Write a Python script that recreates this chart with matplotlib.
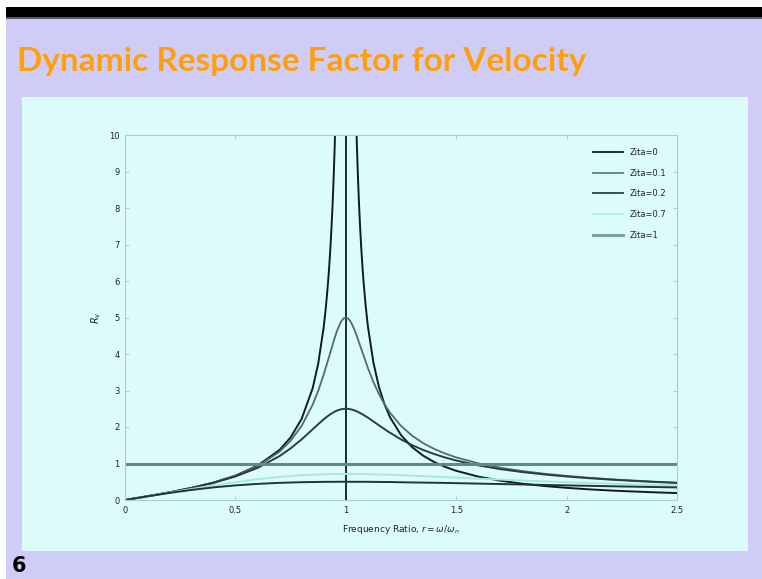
import matplotlib
matplotlib.use("Agg")
import matplotlib.pyplot as plt
from matplotlib.patches import Rectangle
from matplotlib.lines import Line2D

# ---------------- data ----------------
r_fine = [0, 0.1, 0.2, 0.3, 0.4, 0.5, 0.6, 0.7, 0.75, 0.8, 0.85, 0.875, 0.9, 0.925,
          0.95, 0.96, 0.975, 0.98, 0.99, 1.0, 1.01, 1.02, 1.025, 1.04, 1.05, 1.075,
          1.1, 1.125, 1.15, 1.175, 1.2, 1.25, 1.3, 1.35, 1.4, 1.45, 1.5, 1.6, 1.7,
          1.8, 1.9, 2.0, 2.1, 2.2, 2.25, 2.4, 2.5]
rv_z01 = [0, 0.101, 0.208, 0.329, 0.474, 0.661, 0.921, 1.324, 1.622, 2.031, 2.612,
          2.991, 3.439, 3.942, 4.448, 4.629, 4.847, 4.901, 4.975, 5.0, 4.975, 4.905,
          4.854, 4.655, 4.493, 4.050, 3.617, 3.232, 2.903, 2.627, 2.394, 2.031,
          1.763, 1.559, 1.4, 1.272, 1.167, 1.005, 0.885, 0.793, 0.720, 0.661, 0.611,
          0.569, 0.550, 0.502, 0.474]
rv_z02 = [0, 0.101, 0.208, 0.327, 0.468, 0.644, 0.878, 1.203, 1.414, 1.661, 1.937,
          2.077, 2.211, 2.329, 2.422, 2.449, 2.480, 2.487, 2.497, 2.5, 2.497, 2.488,
          2.481, 2.453, 2.429, 2.351, 2.256, 2.153, 2.047, 1.943, 1.843, 1.661,
          1.505, 1.372, 1.260, 1.164, 1.082, 0.949, 0.846, 0.765, 0.699, 0.644,
          0.598, 0.558, 0.541, 0.494, 0.468]

r_left = [0, 0.1, 0.2, 0.3, 0.4, 0.5, 0.6, 0.7, 0.75, 0.8, 0.85, 0.875, 0.9, 0.91,
          0.92, 0.925, 0.93, 0.935, 0.94, 0.945, 0.95, 0.96, 0.97, 0.975, 0.99]
rv_z0_left = [0, 0.101, 0.208, 0.330, 0.476, 0.667, 0.938, 1.373, 1.714, 2.222,
              3.063, 3.733, 4.737, 5.294, 5.990, 6.407, 6.884, 7.434, 8.076, 8.834,
              9.744, 12.24, 16.41, 19.75, 49.7]
r_right = [1.01, 1.025, 1.03, 1.035, 1.04, 1.045, 1.05, 1.055, 1.06, 1.065, 1.07,
           1.075, 1.08, 1.09, 1.1, 1.125, 1.15, 1.175, 1.2, 1.25, 1.3, 1.35, 1.4,
           1.45, 1.5, 1.6, 1.7, 1.8, 1.9, 2.0, 2.1, 2.2, 2.25, 2.4, 2.5]
rv_z0_right = [49.75, 19.75, 16.42, 14.04, 12.25, 10.87, 9.76, 8.85, 8.09, 7.45,
               6.90, 6.43, 6.01, 5.32, 4.76, 3.765, 3.10, 2.627, 2.27, 1.78, 1.45,
               1.216, 1.04, 0.907, 0.80, 0.641, 0.529, 0.446, 0.383, 0.333, 0.293,
               0.260, 0.246, 0.21, 0.19]

r_coarse = [0, 0.1, 0.2, 0.3, 0.4, 0.5, 0.6, 0.7, 0.8, 0.9, 1.0, 1.1, 1.2, 1.3, 1.4,
            1.5, 1.6, 1.8, 2.0, 2.25, 2.5]
rv_z07 = [0, 0.100, 0.200, 0.299, 0.396, 0.487, 0.568, 0.634, 0.680, 0.706, 0.714,
          0.708, 0.691, 0.668, 0.641, 0.614, 0.586, 0.534, 0.487, 0.438, 0.396]
rv_z1 = [0, 0.099, 0.192, 0.275, 0.345, 0.400, 0.441, 0.470, 0.488, 0.497, 0.500,
         0.498, 0.492, 0.481, 0.473, 0.462, 0.449, 0.425, 0.400, 0.371, 0.345]

resonance_r = 1.0
reference_level = 1.0

legend_labels = ["Zita=0", "Zita=0.1", "Zita=0.2", "Zita=0.7", "Zita=1"]
x_ticks = [0, 0.5, 1, 1.5, 2, 2.5]
x_ticklabels = ["0", "0.5", "1", "1.5", "2", "2.5"]
y_ticks = list(range(0, 11))

title_text = "Dynamic Response Factor for Velocity"
slide_number = "6"

# ---------------- styling ----------------
W, H = 762, 579
fig = plt.figure(figsize=(W / 100, H / 100), dpi=100)
fig.patch.set_facecolor("#d0ccf8")

def frect(x0, y0, x1, y1, color, z=0):
    fig.add_artist(Rectangle((x0 / W, 1 - y1 / H), (x1 - x0) / W, (y1 - y0) / H,
                             transform=fig.transFigure, facecolor=color,
                             edgecolor="none", zorder=z))

frect(0, 0, W, 7, "white")
frect(0, 0, 6, H, "white")
frect(6, 7, W, 17, "black")
frect(6, 17, W, 19, "#5a5870")
frect(22, 97, 748, 551, "#dcfcfc")

fig.text(17 / W, 1 - 61 / H, title_text, color="#ff9f0a", fontsize=24,
         fontweight="bold", family="Lato", ha="left", va="center")
fig.text(12 / W, 1 - 566 / H, slide_number, color="black", fontsize=15,
         fontweight="bold", family="DejaVu Sans", ha="left", va="center")

ax = fig.add_axes([125 / W, 1 - 500 / H, (677 - 125) / W, (500 - 135) / H])
ax.set_facecolor("#dcfcfc")
ax.set_zorder(2)

c0, c01, c02, c07, c1 = "#101c1c", "#4e6e6e", "#2a3e3e", "#a8e6e6", "#223434"

ax.plot(r_left, rv_z0_left, color=c0, lw=1.4)
ax.plot(r_right, rv_z0_right, color=c0, lw=1.4)
ax.axvline(resonance_r, color=c0, lw=1.3)
ax.plot(r_fine, rv_z01, color=c01, lw=1.3)
ax.plot(r_fine, rv_z02, color=c02, lw=1.4)
ax.plot(r_coarse, rv_z07, color=c07, lw=1.4)
ax.plot(r_coarse, rv_z1, color=c1, lw=1.4)
ax.axhline(reference_level, color="#5e8a8a", lw=2.2)

ax.set_xlim(0, 2.5)
ax.set_ylim(0, 10)
ax.set_xticks(x_ticks)
ax.set_xticklabels(x_ticklabels)
ax.set_yticks(y_ticks)
ax.tick_params(direction="in", length=3, width=0.6, color="#a0c8c8",
               labelsize=6, labelcolor="#222222", top=True, right=True, pad=4)
for s in ax.spines.values():
    s.set_color("#a8d0d0")
    s.set_linewidth(0.8)

ax.set_xlabel(r"Frequency Ratio, $r = \omega/\omega_n$", fontsize=6.5,
              color="#222222", labelpad=6)
ax.set_ylabel(r"$R_v$", fontsize=7, color="#222222", labelpad=4)

handles = [Line2D([], [], color=c0, lw=1.3),
           Line2D([], [], color="#5a8080", lw=1.3),
           Line2D([], [], color=c02, lw=1.3),
           Line2D([], [], color="#b0ecec", lw=1.3),
           Line2D([], [], color="#7aa4a4", lw=2.2)]
leg = ax.legend(handles, legend_labels, loc="upper right",
                bbox_to_anchor=(0.995, 0.985), frameon=False, fontsize=6,
                labelspacing=1.4, handlelength=3.6, handletextpad=0.8)
for t in leg.get_texts():
    t.set_color("#222222")

fig.savefig("out.png", dpi=100, facecolor=fig.get_facecolor())
